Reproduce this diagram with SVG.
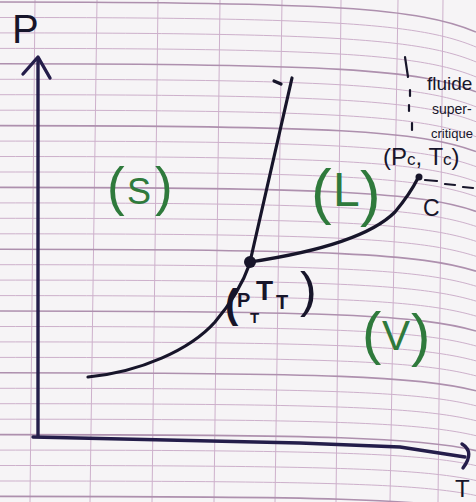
<svg xmlns="http://www.w3.org/2000/svg" width="476" height="502" viewBox="0 0 476 502">
<style>
.g{fill:none;stroke:#cdb0cb;stroke-width:1}
.gb{fill:none;stroke:#ae90ae;stroke-width:1.6}
.ink{fill:none;stroke:#17152a;stroke-width:3.2;stroke-linecap:round;stroke-linejoin:round}
.ax{fill:none;stroke:#241d4a;stroke-width:3.4;stroke-linecap:round;stroke-linejoin:round}
.dash{fill:none;stroke:#17152a;stroke-width:2.2;stroke-linecap:round}
.t{font-family:"Liberation Sans",Arial,sans-serif;fill:#17152a}
.b{font-weight:bold}
.gr{font-family:"Liberation Sans",Arial,sans-serif;fill:#2f7a3c}
</style>
<rect width="476" height="502" fill="#f6f4f6"/>
<g id="grid">
<g class="g">
<path d="M0,17.5 C330,17.5 420,23.4 476,47"/>
<path d="M0,32.9 C330,32.9 420,38.7 476,61.9"/>
<path d="M0,48.4 C330,48.4 420,54.1 476,76.9"/>
<path d="M0,79.3 C330,79.3 420,84.8 476,106.8"/>
<path d="M0,94.7 C330,94.7 420,100.1 476,121.7"/>
<path d="M0,110.2 C330,110.2 420,115.5 476,136.7"/>
<path d="M0,141.1 C330,141.1 420,146.2 476,166.6"/>
<path d="M0,156.5 C330,156.5 420,161.5 476,181.5"/>
<path d="M0,172 C330,172 420,176.9 476,196.5"/>
<path d="M0,202.9 C330,202.9 420,207.6 476,226.4"/>
<path d="M0,218.3 C330,218.3 420,222.9 476,241.3"/>
<path d="M0,233.8 C330,233.8 420,238.3 476,256.3"/>
<path d="M0,264.7 C330,264.7 420,269 476,286.2"/>
<path d="M0,280.1 C330,280.1 420,284.3 476,301.1"/>
<path d="M0,295.6 C330,295.6 420,299.7 476,316.1"/>
<path d="M0,326.5 C330,326.5 420,330.4 476,346"/>
<path d="M0,341.9 C330,341.9 420,345.7 476,360.9"/>
<path d="M0,357.4 C330,357.4 420,361.1 476,375.9"/>
<path d="M0,388.3 C330,388.3 420,391.8 476,405.8"/>
<path d="M0,403.7 C330,403.7 420,407.1 476,420.7"/>
<path d="M0,419.2 C330,419.2 420,422.5 476,435.7"/>
<path d="M0,450.1 C330,450.1 420,453.2 476,465.6"/>
<path d="M0,465.5 C330,465.5 420,468.5 476,480.5"/>
<path d="M0,481 C330,481 420,483.9 476,495.5"/>
<path d="M35,0 L30,502"/>
<path d="M97,0 L90,502"/>
<path d="M158,0 L152,502"/>
<path d="M220,0 L214,502"/>
<path d="M282,0 L275,502"/>
<path d="M341,0 L336,502"/>
<path d="M398,0 L390,502"/>
<path d="M443,0 L438,502"/>
</g>
<g class="gb">
<path d="M0,2 C330,2 420,8 476,32"/>
<path d="M0,63.8 C330,63.8 420,69.4 476,91.8"/>
<path d="M0,125.6 C330,125.6 420,130.8 476,151.6"/>
<path d="M0,187.4 C330,187.4 420,192.2 476,211.4"/>
<path d="M0,249.2 C330,249.2 420,253.6 476,271.2"/>
<path d="M0,311 C330,311 420,315 476,331"/>
<path d="M0,372.8 C330,372.8 420,376.4 476,390.8"/>
<path d="M0,434.6 C330,434.6 420,437.8 476,450.6"/>
<path d="M0,496.4 C330,496.4 420,499.2 476,510.4"/>
</g>
</g>
<g id="connectors">
<path id="axis-p" class="ax" d="M38,436 L38,60"/>
<path id="axis-p-head" class="ax" d="M23,74 L38,57 L50,78"/>
<path id="axis-t" class="ax" d="M33,437 L300,443 L400,447 L465,457"/>
<path id="axis-t-head" class="ax" d="M462,444 Q475,452 463,468"/>
<path id="sublimation" class="ink" d="M88,377 C140,372 190,350 215,322 C232,302 243,283 250,263"/>
<path id="fusion" class="ink" d="M250,262 L292,78"/>
<path id="fusion-tick" class="ink" stroke-width="2.4" d="M274,81 L281,84"/>
<path id="vaporisation" class="ink" d="M250,262 C330,250 375,232 395,212 C405,200 413,188 418,178"/>
<g class="dash">
<path d="M425,180 L437,181"/>
<path d="M445,184 L455,185"/>
<path d="M463,187 L473,188"/>
<path d="M405,57 L408,77"/>
<path d="M410,90 L410,96"/>
<path d="M409,105 L409,111"/>
<path d="M412,123 L412,130"/>
</g>
</g>
<g id="triple-point">
<circle cx="250" cy="262" r="6" fill="#17152a"/>
<text class="t b" x="225" y="318" font-size="40">(</text>
<text class="t b" x="237" y="307" font-size="20">P</text>
<text class="t b" x="250" y="323" font-size="15">T</text>
<text class="t b" x="256" y="300" font-size="28">T</text>
<text class="t b" x="276" y="309" font-size="20">T</text>
<text class="t" x="300" y="307" font-size="50">)</text>
</g>
<g id="critical-point">
<circle cx="419" cy="177" r="3.5" fill="#17152a"/>
<text class="t" x="383" y="165" font-size="24">(P<tspan font-size="17">c</tspan>, T<tspan font-size="17">c</tspan>)</text>
<text class="t" x="423" y="216" font-size="23">C</text>
</g>
<g id="supercritical">
<text class="t" x="427" y="90" font-size="19">fluide</text>
<text class="t" x="432" y="114" font-size="14">super-</text>
<text class="t" x="431" y="138" font-size="13">critique</text>
</g>
<g id="label-p"><text class="t" x="12" y="43" font-size="40">P</text></g>
<g id="label-t"><text class="t" x="455" y="497" font-size="24">T</text></g>
<g id="solid">
<text class="gr" x="107" y="205" font-size="53">(</text>
<text class="gr" x="127" y="204" font-size="36">S</text>
<text class="gr" x="155" y="205" font-size="53">)</text>
</g>
<g id="liquid">
<text class="gr" x="311" y="212" font-size="62">(</text>
<text class="gr" x="333" y="206" font-size="48">L</text>
<text class="gr" x="360" y="214" font-size="62">)</text>
</g>
<g id="vapour">
<text class="gr" x="362" y="353" font-size="58">(</text>
<text class="gr" x="382" y="350" font-size="42">V</text>
<text class="gr" x="411" y="355" font-size="58">)</text>
</g>
</svg>
